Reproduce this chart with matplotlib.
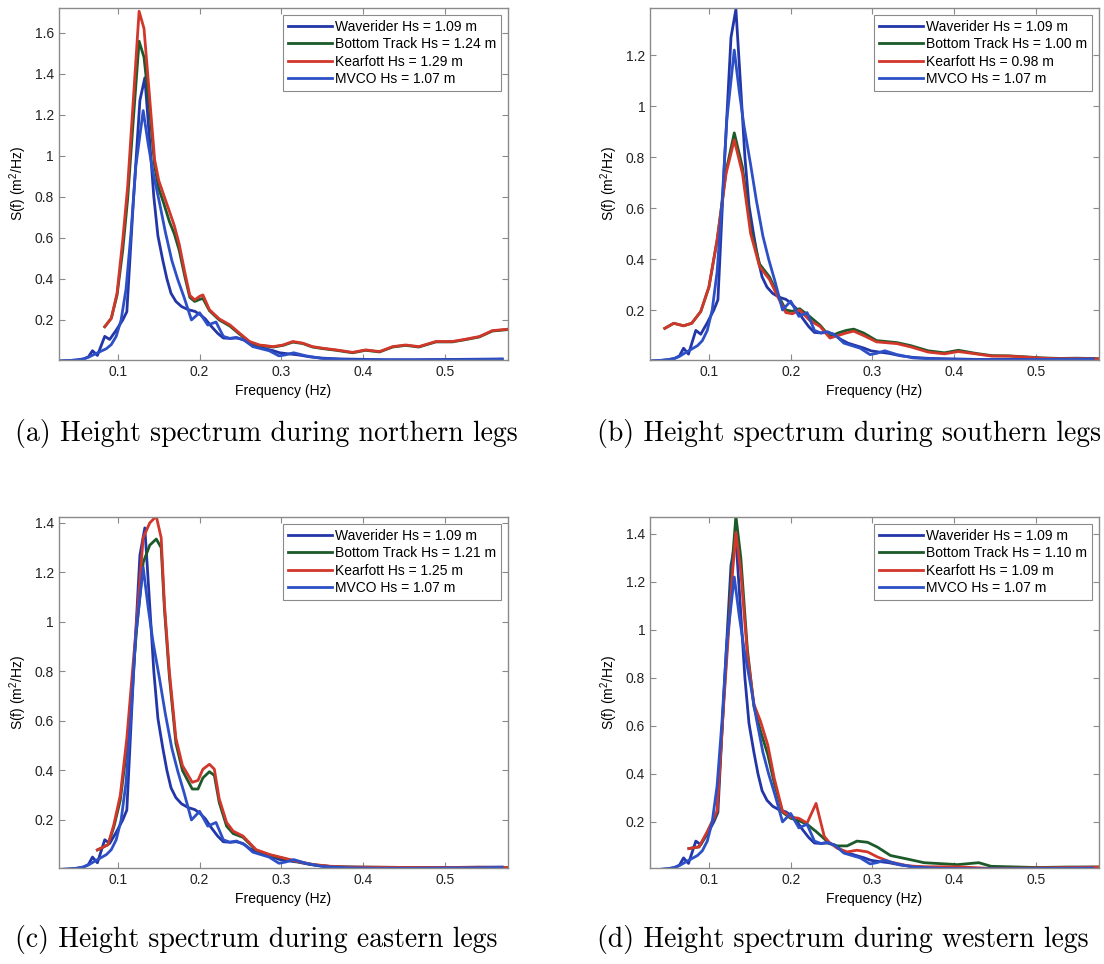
import matplotlib
matplotlib.use('Agg')
import matplotlib.pyplot as plt

plt.rcParams['font.family'] = ['Liberation Sans', 'DejaVu Sans']
plt.rcParams['mathtext.fontset'] = 'custom'
plt.rcParams['mathtext.rm'] = 'Liberation Sans'

# Waverider and MVCO spectra (same in every panel)
wr_f = [0.028, 0.040, 0.050, 0.058, 0.064, 0.069, 0.075, 0.084, 0.090, 0.098,
        0.106, 0.111, 0.119, 0.127, 0.133, 0.138, 0.144, 0.149, 0.155, 0.160,
        0.165, 0.171, 0.178, 0.186, 0.194, 0.200, 0.207, 0.214, 0.222, 0.229,
        0.237, 0.245, 0.253, 0.261, 0.270, 0.280, 0.290, 0.298, 0.308, 0.320,
        0.335, 0.350, 0.370, 0.400, 0.430, 0.460, 0.490, 0.520, 0.550, 0.570]
wr_s = [0.000, 0.002, 0.005, 0.010, 0.020, 0.050, 0.027, 0.120, 0.105, 0.150,
        0.200, 0.240, 0.780, 1.270, 1.380, 1.120, 0.800, 0.610, 0.490, 0.400,
        0.330, 0.290, 0.265, 0.250, 0.242, 0.228, 0.205, 0.170, 0.135, 0.112,
        0.110, 0.112, 0.105, 0.085, 0.070, 0.060, 0.050, 0.040, 0.035, 0.030,
        0.020, 0.014, 0.010, 0.008, 0.006, 0.006, 0.007, 0.008, 0.009, 0.010]

mv_f = [0.028, 0.040, 0.050, 0.058, 0.064, 0.070, 0.078, 0.086, 0.092, 0.098,
        0.104, 0.110, 0.116, 0.122, 0.131, 0.137, 0.143, 0.151, 0.158, 0.166,
        0.173, 0.181, 0.190, 0.200, 0.210, 0.220, 0.229, 0.237, 0.245, 0.255,
        0.265, 0.275, 0.285, 0.297, 0.305, 0.315, 0.330, 0.350, 0.380, 0.420,
        0.460, 0.500, 0.540, 0.570]
mv_s = [0.000, 0.002, 0.005, 0.010, 0.018, 0.030, 0.045, 0.060, 0.080, 0.120,
        0.200, 0.350, 0.620, 0.950, 1.220, 1.060, 0.920, 0.770, 0.630, 0.490,
        0.400, 0.310, 0.200, 0.235, 0.175, 0.190, 0.120, 0.110, 0.115, 0.100,
        0.070, 0.060, 0.050, 0.025, 0.030, 0.040, 0.025, 0.012, 0.007, 0.005,
        0.005, 0.006, 0.007, 0.008]

# (a) northern legs
north_f = [0.084, 0.092, 0.099, 0.106, 0.112, 0.119, 0.126, 0.132, 0.139, 0.145,
           0.150, 0.156, 0.163, 0.169, 0.175, 0.182, 0.188, 0.194, 0.200, 0.204,
           0.212, 0.224, 0.237, 0.249, 0.261, 0.273, 0.290, 0.302, 0.314, 0.326,
           0.338, 0.351, 0.367, 0.387, 0.403, 0.420, 0.436, 0.452, 0.468, 0.489,
           0.509, 0.525, 0.542, 0.558, 0.577]
north_kf = [0.167, 0.208, 0.330, 0.590, 0.850, 1.277, 1.704, 1.620, 1.277, 0.980,
            0.880, 0.810, 0.730, 0.660, 0.570, 0.430, 0.320, 0.298, 0.315, 0.322,
            0.250, 0.205, 0.176, 0.135, 0.095, 0.078, 0.070, 0.078, 0.095, 0.087,
            0.070, 0.062, 0.054, 0.042, 0.054, 0.046, 0.070, 0.078, 0.070, 0.095,
            0.095, 0.106, 0.119, 0.148, 0.155]
north_bt = [0.167, 0.208, 0.320, 0.540, 0.790, 1.180, 1.558, 1.480, 1.220, 0.950,
            0.840, 0.770, 0.680, 0.620, 0.540, 0.410, 0.310, 0.290, 0.300, 0.305,
            0.245, 0.200, 0.170, 0.130, 0.092, 0.076, 0.068, 0.076, 0.092, 0.085,
            0.068, 0.060, 0.052, 0.040, 0.052, 0.044, 0.068, 0.076, 0.068, 0.093,
            0.093, 0.104, 0.117, 0.146, 0.153]

# (b) southern legs
south_f = [0.046, 0.057, 0.069, 0.079, 0.090, 0.100, 0.110, 0.121, 0.131, 0.141,
           0.151, 0.162, 0.174, 0.186, 0.194, 0.202, 0.211, 0.223, 0.236, 0.248,
           0.258, 0.268, 0.277, 0.289, 0.305, 0.330, 0.347, 0.368, 0.388, 0.405,
           0.426, 0.446, 0.467, 0.488, 0.508, 0.529, 0.550, 0.577]
south_kf = [0.128, 0.148, 0.138, 0.148, 0.194, 0.290, 0.474, 0.736, 0.867, 0.736,
            0.500, 0.370, 0.320, 0.240, 0.190, 0.185, 0.200, 0.160, 0.135, 0.090,
            0.100, 0.110, 0.117, 0.100, 0.075, 0.068, 0.055, 0.035, 0.028, 0.037,
            0.028, 0.019, 0.019, 0.015, 0.011, 0.009, 0.010, 0.008]
south_bt = [0.128, 0.148, 0.138, 0.148, 0.194, 0.290, 0.474, 0.745, 0.895, 0.760,
            0.520, 0.380, 0.330, 0.250, 0.200, 0.195, 0.205, 0.175, 0.140, 0.095,
            0.110, 0.120, 0.125, 0.110, 0.080, 0.072, 0.060, 0.040, 0.032, 0.042,
            0.030, 0.021, 0.020, 0.016, 0.012, 0.010, 0.011, 0.009]

# (c) eastern legs
east_f = [0.075, 0.088, 0.095, 0.103, 0.111, 0.123, 0.131, 0.139, 0.147, 0.153,
          0.157, 0.163, 0.171, 0.179, 0.191, 0.198, 0.204, 0.212, 0.218, 0.224,
          0.233, 0.241, 0.253, 0.269, 0.286, 0.302, 0.319, 0.339, 0.360, 0.380,
          0.420, 0.460, 0.500, 0.540, 0.577]
east_kf = [0.079, 0.100, 0.180, 0.300, 0.530, 1.000, 1.340, 1.400, 1.427, 1.340,
           1.070, 0.800, 0.530, 0.420, 0.352, 0.360, 0.405, 0.425, 0.405, 0.285,
           0.190, 0.155, 0.135, 0.080, 0.060, 0.047, 0.033, 0.020, 0.013, 0.010,
           0.009, 0.008, 0.008, 0.009, 0.008]
east_bt = [0.079, 0.100, 0.170, 0.280, 0.490, 0.970, 1.240, 1.310, 1.335, 1.300,
           1.050, 0.780, 0.510, 0.400, 0.325, 0.325, 0.370, 0.395, 0.380, 0.270,
           0.175, 0.145, 0.130, 0.078, 0.058, 0.045, 0.032, 0.019, 0.012, 0.010,
           0.009, 0.008, 0.008, 0.009, 0.008]

# (d) western legs
west_kf_f = [0.0755, 0.088, 0.098, 0.110, 0.118, 0.129, 0.133, 0.139, 0.147, 0.155,
             0.163, 0.172, 0.180, 0.190, 0.200, 0.210, 0.220, 0.231, 0.241, 0.247,
             0.257, 0.269, 0.281, 0.294, 0.306, 0.322, 0.343, 0.363, 0.404, 0.445,
             0.500, 0.540, 0.577]
west_kf = [0.089, 0.096, 0.160, 0.245, 0.687, 1.244, 1.405, 1.240, 0.900, 0.690,
           0.620, 0.520, 0.380, 0.245, 0.220, 0.215, 0.195, 0.277, 0.140, 0.115,
           0.090, 0.075, 0.082, 0.075, 0.054, 0.033, 0.017, 0.013, 0.013, 0.006,
           0.008, 0.010, 0.012]
west_bt_f = [0.0755, 0.088, 0.098, 0.110, 0.118, 0.129, 0.133, 0.139, 0.147, 0.155,
             0.163, 0.172, 0.180, 0.190, 0.200, 0.210, 0.220, 0.231, 0.241, 0.247,
             0.257, 0.269, 0.281, 0.294, 0.306, 0.322, 0.343, 0.363, 0.404, 0.430,
             0.445, 0.500, 0.540, 0.577]
west_bt = [0.089, 0.096, 0.155, 0.240, 0.700, 1.300, 1.474, 1.300, 0.920, 0.680,
           0.580, 0.480, 0.360, 0.240, 0.215, 0.205, 0.190, 0.160, 0.130, 0.110,
           0.100, 0.100, 0.120, 0.115, 0.095, 0.060, 0.045, 0.030, 0.022, 0.030,
           0.015, 0.010, 0.012, 0.012]

hs_bt = ['1.24', '1.00', '1.21', '1.10']
hs_kf = ['1.29', '0.98', '1.25', '1.09']
captions = ['(a) Height spectrum during northern legs',
            '(b) Height spectrum during southern legs',
            '(c) Height spectrum during eastern legs',
            '(d) Height spectrum during western legs']
ytops = [1.72, 1.385, 1.424, 1.47]
ybottoms = [0.005, 0.004, 0.006, 0.008]
ytick_max = [1.6, 1.2, 1.4, 1.4]

bt_data = [(north_f, north_bt), (south_f, south_bt), (east_f, east_bt), (west_bt_f, west_bt)]
kf_data = [(north_f, north_kf), (south_f, south_kf), (east_f, east_kf), (west_kf_f, west_kf)]

c_wr = '#2336a8'
c_bt = '#1d5a2a'
c_kf = '#d2372b'
c_mv = '#2d50c6'
grey = '#8a8a8a'

fig = plt.figure(figsize=(11.04, 9.64), dpi=100)

# axes boxes in figure fraction
positions = [[0.0534, 0.6266, 0.4067, 0.3651],
             [0.5888, 0.6266, 0.4067, 0.3651],
             [0.0534, 0.0996, 0.4067, 0.3641],
             [0.5888, 0.0996, 0.4067, 0.3641]]
caption_xy = [(0.0136, 0.5508), (0.5408, 0.5508), (0.0136, 0.0249), (0.5408, 0.0249)]

for i in range(4):
    ax = fig.add_axes(positions[i])
    ax.plot(wr_f, wr_s, color=c_wr, linewidth=2.0, label='Waverider Hs = 1.09 m')
    ax.plot(bt_data[i][0], bt_data[i][1], color=c_bt, linewidth=2.0,
            label='Bottom Track Hs = ' + hs_bt[i] + ' m')
    ax.plot(kf_data[i][0], kf_data[i][1], color=c_kf, linewidth=2.0,
            label='Kearfott Hs = ' + hs_kf[i] + ' m')
    ax.plot(mv_f, mv_s, color=c_mv, linewidth=2.0, label='MVCO Hs = 1.07 m')

    ax.set_xlim(0.028, 0.577)
    ax.set_ylim(ybottoms[i], ytops[i])
    ax.set_xticks([0.1, 0.2, 0.3, 0.4, 0.5])
    ax.set_xticklabels(['0.1', '0.2', '0.3', '0.4', '0.5'])
    yt = [round(0.2 * k, 1) for k in range(1, int(round(ytick_max[i] / 0.2)) + 1)]
    ax.set_yticks(yt)
    ax.set_yticklabels(['%g' % v for v in yt])
    ax.tick_params(direction='in', top=True, right=True, length=4,
                   color=grey, labelsize=10, labelcolor='#222222')
    for sp in ax.spines.values():
        sp.set_color(grey)
        sp.set_linewidth(1.0)

    ax.set_xlabel('Frequency (Hz)', fontsize=10)
    ax.set_ylabel(r'S(f) (m$^{\mathregular{2}}$/Hz)', fontsize=10)

    leg = ax.legend(loc='upper right', fontsize=10, handlelength=3.2,
                    labelspacing=0.25, borderaxespad=0.5, borderpad=0.35,
                    handletextpad=0.2, fancybox=False, framealpha=1)
    leg.get_frame().set_edgecolor(grey)
    leg.get_frame().set_linewidth(0.8)

    fig.text(caption_xy[i][0], caption_xy[i][1], captions[i], family='cmr10',
             fontsize=20, ha='left', va='center')

fig.savefig('out.png', dpi=100)
